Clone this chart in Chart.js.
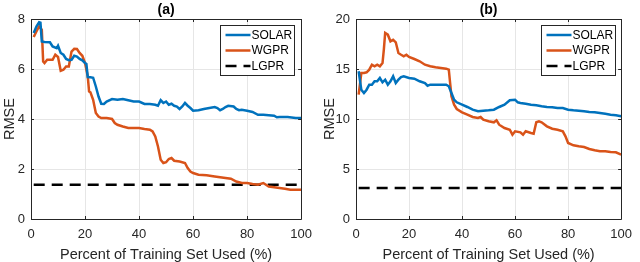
<!DOCTYPE html>
<html>
<head>
<meta charset="utf-8">
<script src="https://cdn.jsdelivr.net/npm/chart.js@4/dist/chart.umd.min.js"></script>
<style>
  html, body { margin: 0; padding: 0; background: #fff; }
  #wrap { position: relative; width: 640px; height: 262px; }
  .panel { position: absolute; top: 0; width: 320px; height: 262px; }
</style>
</head>
<body>
<div id="wrap">
  <div class="panel" style="left:0"><canvas id="chartA" width="320" height="262"></canvas></div>
  <div class="panel" style="left:320px"><canvas id="chartB" width="320" height="262"></canvas></div>
</div>
<script>
// series labels and panel titles
const seriesNames = ['SOLAR', 'WGPR', 'LGPR'];
const panelTitles = ['(a)', '(b)'];
const xTicks = [0, 20, 40, 60, 80, 100];
const yTicksA = [0, 2, 4, 6, 8];
const yTicksB = [0, 5, 10, 15, 20];

// (a) values: [percent, RMSE]
const solarA = [[1,7.44],[2,7.7],[3,7.87],[3.5,7.85],[4,7.1],[5,7.08],[7,7.07],[8,6.9],[9.5,6.83],[10,6.93],[11,6.64],[12,6.57],[13,6.4],[14,6.35],[15,6.37],[16,6.53],[17,6.5],[18,6.4],[19,6.35],[20,6.24],[20.5,6.2],[21,5.68],[22,5.67],[23,5.65],[24,5.3],[25,4.9],[26,4.61],[27,4.6],[28,4.7],[30,4.8],[32,4.77],[34,4.8],[36,4.75],[38,4.7],[40,4.7],[42,4.6],[44,4.6],[46,4.57],[47,4.53],[48,4.75],[49,4.64],[50,4.7],[51,4.57],[52,4.61],[53,4.53],[54,4.5],[55,4.4],[56,4.5],[57,4.64],[58,4.53],[59,4.44],[60,4.33],[62,4.35],[64,4.4],[66,4.44],[68,4.48],[69,4.44],[70,4.35],[71,4.4],[72,4.48],[73,4.53],[75,4.5],[76,4.4],[77,4.35],[78,4.37],[80,4.33],[82,4.28],[84,4.17],[86,4.17],[88,4.15],[90,4.13],[91,4.07],[92,4.08],[95,4.08],[98,4.04],[100,4.04]];
const wgprA = [[1,7.28],[2,7.5],[3,7.7],[4,7.57],[4.5,6.3],[5,6.24],[6,6.37],[8,6.37],[9,6.57],[10,6.48],[11,5.93],[12,5.97],[13,6.1],[14,6.1],[15,6.7],[16,6.81],[17,6.8],[18,6.64],[19,6.53],[20,6.24],[21,5.71],[21.5,5.1],[22,5.07],[23,4.77],[24,4.24],[25,4.1],[26,4.04],[28,4.04],[30,4.0],[31,3.84],[32,3.77],[34,3.7],[36,3.64],[38,3.64],[40,3.64],[42,3.6],[44,3.57],[45,3.5],[46,3.3],[47,2.9],[48,2.37],[49,2.24],[50,2.27],[51,2.4],[52,2.44],[53,2.33],[55,2.3],[57,2.24],[58,2.04],[59,1.9],[60,1.84],[62,1.77],[65,1.75],[68,1.7],[70,1.67],[72,1.64],[74,1.61],[76,1.5],[78,1.44],[80,1.44],[82,1.4],[84,1.37],[86,1.44],[88,1.3],[90,1.27],[92,1.24],[94,1.21],[96,1.17],[98,1.17],[100,1.17]];
const lgprA = [[1,1.37],[100,1.37]];

// (b) values
const solarB = [[1,14.77],[2,12.93],[3,12.6],[4,12.93],[5,13.43],[6,13.43],[7,13.77],[8,13.77],[9,14.1],[10,13.67],[11,13.93],[12,13.43],[13,13.77],[14,14.27],[15,13.6],[16,13.93],[17,14.2],[18,14.27],[20,14.1],[22,14.03],[24,13.77],[26,13.6],[27,13.33],[28,13.43],[30,13.43],[32,13.43],[34,13.43],[35,13.27],[36,12.6],[37,11.93],[38,11.67],[40,11.43],[42,11.2],[44,10.93],[46,10.77],[48,10.83],[50,10.87],[52,10.93],[54,11.2],[56,11.43],[58,11.87],[60,11.93],[61,11.67],[62,11.6],[64,11.53],[66,11.43],[68,11.37],[70,11.27],[72,11.2],[74,11.17],[76,11.1],[78,11.1],[80,10.93],[82,10.87],[84,10.83],[86,10.77],[88,10.7],[90,10.67],[92,10.6],[94,10.53],[96,10.43],[98,10.37],[100,10.27]];
const wgprB = [[1,12.43],[1.5,13.5],[2,14.6],[3,14.6],[4,14.67],[5,14.93],[6,15.43],[7,15.27],[8,15.43],[9,15.27],[10,15.6],[10.5,16.93],[11,18.6],[12,18.43],[13,17.77],[14,17.93],[15,17.67],[16,16.6],[17,16.43],[18,16.27],[19,16.43],[20,16.2],[22,16.0],[24,15.77],[26,15.43],[28,15.27],[30,15.17],[32,15.1],[34,15.03],[35,14.93],[35.5,13.6],[36,12.27],[37,11.43],[38,11.0],[40,10.67],[42,10.43],[44,10.2],[46,10.1],[47,10.2],[48,9.93],[50,9.77],[52,9.67],[53,9.87],[54,9.43],[56,9.1],[58,8.93],[59,8.43],[60,8.77],[62,8.67],[63,8.43],[64,8.77],[66,8.6],[67,8.53],[68,9.67],[69,9.77],[70,9.67],[72,9.27],[74,9.03],[76,8.93],[78,8.77],[79,8.27],[80,7.6],[82,7.37],[84,7.27],[86,7.2],[88,7.0],[90,6.87],[92,6.77],[94,6.77],[96,6.7],[98,6.67],[100,6.43]];
const lgprB = [[1,3.1],[100,3.1]];

const FONT = '"Liberation Sans", Arial, sans-serif';
const INK = '#262626';

const toPts = arr => arr.map(p => ({ x: p[0], y: p[1] }));

// box, inner ticks, title and legend, drawn matlab style
const framePlugin = {
    id: 'frame',
    afterDraw(chart) {
        const ctx = chart.ctx;
        const a = chart.chartArea;
        const xs = chart.scales.x, ys = chart.scales.y;
        ctx.save();
        ctx.strokeStyle = INK;
        ctx.lineWidth = 1;
        ctx.beginPath();
        ctx.rect(Math.round(a.left) + 0.5, Math.round(a.top) + 0.5, Math.round(a.right - a.left), Math.round(a.bottom - a.top));
        ctx.stroke();
        ctx.beginPath();
        xs.ticks.forEach(t => {
            const px = Math.round(xs.getPixelForValue(t.value)) + 0.5;
            ctx.moveTo(px, a.bottom); ctx.lineTo(px, a.bottom - 3);
            ctx.moveTo(px, a.top); ctx.lineTo(px, a.top + 3);
        });
        ys.ticks.forEach(t => {
            const py = Math.round(ys.getPixelForValue(t.value)) + 0.5;
            ctx.moveTo(a.left, py); ctx.lineTo(a.left + 3, py);
            ctx.moveTo(a.right, py); ctx.lineTo(a.right - 3, py);
        });
        ctx.stroke();

        // title
        const opts = chart.options.plugins.frame;
        ctx.fillStyle = '#000';
        ctx.font = 'bold 14px ' + FONT;
        ctx.textAlign = 'center';
        ctx.textBaseline = 'middle';
        ctx.fillText(opts.title, (a.left + a.right) / 2, 10);

        // legend
        const bw = 74, bh = 50;
        const bx = Math.round(a.right - opts.legendRight - bw) + 0.5;
        const by = Math.round(a.top + 6) + 0.5;
        ctx.fillStyle = '#fff';
        ctx.fillRect(bx, by, bw, bh);
        ctx.strokeStyle = INK;
        ctx.strokeRect(bx, by, bw, bh);
        ctx.font = '12px ' + FONT;
        ctx.textAlign = 'left';
        chart.data.datasets.forEach((ds, i) => {
            const ly = by + 9.5 + i * 15.5;
            ctx.strokeStyle = ds.borderColor;
            ctx.lineWidth = ds.borderWidth;
            ctx.setLineDash(ds.borderDash || []);
            ctx.beginPath();
            ctx.moveTo(bx + 5, ly);
            ctx.lineTo(bx + 30, ly);
            ctx.stroke();
            ctx.setLineDash([]);
            ctx.fillStyle = '#000';
            ctx.fillText(ds.label, bx + 31, ly + 0.5);
        });
        ctx.restore();
    }
};

function makeChart(id, solar, wgpr, lgpr, yTicks, yWidth, padRight, title, legendRight) {
    const ctx = document.getElementById(id).getContext('2d');
    const yMax = yTicks[yTicks.length - 1];
    return new Chart(ctx, {
        type: 'line',
        data: {
            datasets: [
                { label: seriesNames[0], data: toPts(solar), borderColor: '#0072BD', borderWidth: 2.5 },
                { label: seriesNames[1], data: toPts(wgpr), borderColor: '#D95319', borderWidth: 2.5 },
                { label: seriesNames[2], data: toPts(lgpr), borderColor: '#000000', borderWidth: 2.5, borderDash: [11, 7] }
            ]
        },
        options: {
            responsive: false,
            animation: false,
            layout: { padding: { top: 19, right: padRight, bottom: 0, left: 0 } },
            elements: { point: { radius: 0 }, line: { tension: 0 } },
            plugins: {
                legend: { display: false },
                tooltip: { enabled: false },
                frame: { title: title, legendRight: legendRight }
            },
            scales: {
                x: {
                    type: 'linear',
                    min: 0, max: 100,
                    afterFit: s => { s.height = 43; },
                    afterBuildTicks: s => { s.ticks = xTicks.map(v => ({ value: v })); },
                    grid: { color: '#e6e6e6', drawTicks: false },
                    border: { display: false },
                    ticks: { color: INK, font: { family: FONT, size: 13 }, padding: 8, maxRotation: 0 },
                    title: { display: true, text: 'Percent of Training Set Used (%)', color: INK, font: { family: FONT, size: 14.5 }, padding: { top: 0, bottom: -2 } }
                },
                y: {
                    min: 0, max: yMax,
                    afterFit: s => { s.width = yWidth; },
                    afterBuildTicks: s => { s.ticks = yTicks.map(v => ({ value: v })); },
                    grid: { color: '#e6e6e6', drawTicks: false },
                    border: { display: false },
                    ticks: { color: INK, font: { family: FONT, size: 13 }, padding: 6 },
                    title: { display: true, text: 'RMSE', color: INK, font: { family: FONT, size: 14.5 }, padding: { top: 1, bottom: 0 } }
                }
            }
        },
        plugins: [framePlugin]
    });
}

makeChart('chartA', solarA, wgprA, lgprA, yTicksA, 31, 16, panelTitles[0], 7);
makeChart('chartB', solarB, wgprB, lgprB, yTicksB, 36, 11, panelTitles[1], 6);
</script>
</body>
</html>
